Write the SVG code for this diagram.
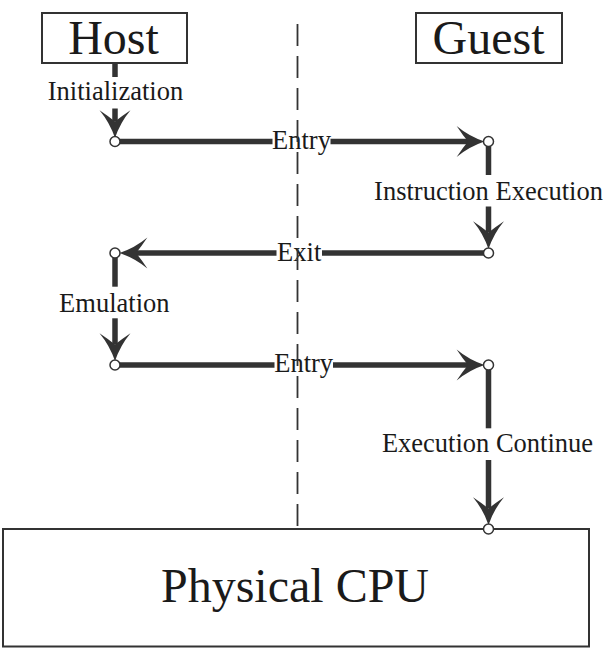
<svg xmlns="http://www.w3.org/2000/svg" width="616" height="650" viewBox="0 0 616 650">
  <defs>
    <style>
      .box { fill: #ffffff; stroke: #333333; stroke-width: 2; }
      .title { font-family: "Liberation Serif", "Times New Roman", serif; font-size: 48px; fill: #1a1a1a; text-anchor: middle; }
      .lbl { font-family: "Liberation Serif", "Times New Roman", serif; font-size: 26.5px; fill: #1a1a1a; text-anchor: middle; }
      .conn { fill: none; stroke: #333333; stroke-width: 5.5; marker-end: url(#arrow); }
      .bg { fill: #ffffff; }
      .dot { fill: #ffffff; stroke: #333333; stroke-width: 1.5; }
      .divider { stroke: #333333; stroke-width: 1.8; stroke-dasharray: 22 10; fill: none; }
    </style>
    <marker id="arrow" markerUnits="userSpaceOnUse" markerWidth="32" markerHeight="34" viewBox="-2 -16 31 32" refX="11" refY="0" orient="auto">
      <path d="M27,0 Q12,-5 0,-15 Q6,-6 11,0 Q6,6 0,15 Q12,5 27,0 Z" fill="#333333"/>
    </marker>
  </defs>
  <rect width="616" height="650" fill="#ffffff"/>

  <g id="connectors">
    <path class="conn" d="M115,63 V121.5"/>
    <path class="conn" d="M115,141.5 H468"/>
    <path class="conn" d="M488.5,141.5 V232.5"/>
    <path class="conn" d="M488.5,253 H136"/>
    <path class="conn" d="M115,253 V344.5"/>
    <path class="conn" d="M115,365 H468"/>
    <path class="conn" d="M488.5,365 V508.5"/>
  </g>

  <g id="cpu">
    <rect class="box" x="3" y="529" width="586" height="117.5"/>
    <text class="title" x="295" y="602">Physical CPU</text>
  </g>

  <g id="host">
    <rect class="box" x="42" y="13" width="145" height="50"/>
    <text class="title" x="113.5" y="54">Host</text>
  </g>

  <g id="guest">
    <rect class="box" x="416" y="13" width="146" height="50"/>
    <text class="title" x="488.5" y="53.5">Guest</text>
  </g>

  <g id="labels">
    <g id="lbl-init">
      <rect class="bg" x="48" y="77" width="135" height="31.5"/>
      <text class="lbl" x="115.5" y="100">Initialization</text>
    </g>
    <g id="lbl-entry1">
      <rect class="bg" x="272.5" y="130" width="58" height="24"/>
      <text class="lbl" x="301.5" y="148.5">Entry</text>
    </g>
    <g id="lbl-instr">
      <rect class="bg" x="374" y="175" width="229" height="31.5"/>
      <text class="lbl" x="488.5" y="200">Instruction Execution</text>
    </g>
    <g id="lbl-exit">
      <rect class="bg" x="276.5" y="241" width="45.5" height="24"/>
      <text class="lbl" x="299.2" y="260.7">Exit</text>
    </g>
    <g id="lbl-emul">
      <rect class="bg" x="59" y="286.7" width="110.5" height="31.6"/>
      <text class="lbl" x="114.3" y="311.7">Emulation</text>
    </g>
    <g id="lbl-entry2">
      <rect class="bg" x="274.5" y="353" width="58.5" height="24"/>
      <text class="lbl" x="303.7" y="372">Entry</text>
    </g>
    <g id="lbl-exec">
      <rect class="bg" x="381.5" y="428.3" width="212" height="31.7"/>
      <text class="lbl" x="487.5" y="451.7">Execution Continue</text>
    </g>
  </g>

  <g id="endpoints">
    <circle class="dot" cx="115" cy="141.5" r="5"/>
    <circle class="dot" cx="488.5" cy="141.5" r="5"/>
    <circle class="dot" cx="488.5" cy="253" r="5"/>
    <circle class="dot" cx="115" cy="253" r="5"/>
    <circle class="dot" cx="115" cy="365" r="5"/>
    <circle class="dot" cx="488.5" cy="365" r="5"/>
    <circle class="dot" cx="488.5" cy="529" r="5"/>
  </g>

  <g id="divider">
    <line class="divider" x1="297.5" y1="24" x2="297.5" y2="528"/>
  </g>
</svg>
